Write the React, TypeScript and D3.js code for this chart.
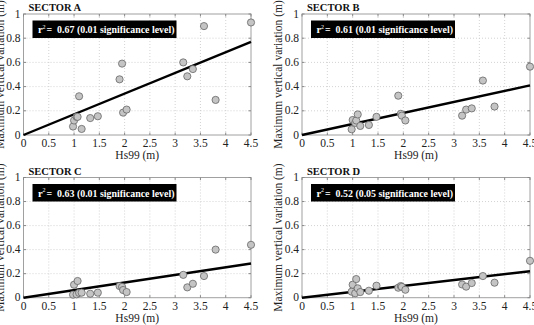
import React from "react";
import * as d3 from "d3";

// Hs99 values shared by the four sectors (m)
const hs99 = [0.98, 1.0, 1.05, 1.07, 1.1, 1.15, 1.32, 1.47, 1.9, 1.95, 1.97, 2.04, 3.16, 3.24, 3.35, 3.57, 3.8, 4.5];

// Maximum vertical variation per sector (m)
const sectorA = [0.07, 0.12, 0.15, 0.15, 0.32, 0.05, 0.14, 0.155, 0.46, 0.59, 0.185, 0.21, 0.6, 0.485, 0.545, 0.9, 0.29, 0.93];
const sectorB = [0.047, 0.124, 0.1, 0.12, 0.17, 0.075, 0.083, 0.15, 0.325, 0.175, 0.16, 0.12, 0.16, 0.21, 0.22, 0.45, 0.235, 0.565];
const sectorC = [0.025, 0.108, 0.028, 0.139, 0.04, 0.042, 0.033, 0.042, 0.097, 0.09, 0.064, 0.047, 0.19, 0.086, 0.116, 0.18, 0.4, 0.44];
const sectorD = [0.05, 0.108, 0.037, 0.155, 0.078, 0.047, 0.058, 0.1, 0.083, 0.097, 0.09, 0.066, 0.11, 0.092, 0.122, 0.18, 0.125, 0.307];

// Fitted line (through origin) value at Hs99 = 4.5
const fitAt45 = [0.77, 0.41, 0.285, 0.22];
const sectorNames = ["SECTOR A", "SECTOR B", "SECTOR C", "SECTOR D"];
const rSquared = ["0.67", "0.61", "0.63", "0.52"];
const significance = ["0.01", "0.01", "0.01", "0.05"];

const xTicks = [0, 0.5, 1, 1.5, 2, 2.5, 3, 3.5, 4, 4.5];
const yTicks = [0, 0.2, 0.4, 0.6, 0.8, 1];

const W = 534;
const H = 325;
const FONT = "'Liberation Serif', 'Times New Roman', Times, 'DejaVu Serif', serif";

const frames = [
  { left: 23.5, right: 251, top: 14, bottom: 135 },
  { left: 302, right: 530, top: 14, bottom: 135 },
  { left: 23.5, right: 251, top: 177.5, bottom: 297.7 },
  { left: 302, right: 530, top: 177.5, bottom: 297.7 },
];

const allSeries = [sectorA, sectorB, sectorC, sectorD];

function Panel({ idx }: { idx: number }) {
  const f = frames[idx];
  const values = allSeries[idx];
  const x = d3.scaleLinear().domain([0, 4.5]).range([f.left, f.right]);
  const y = d3.scaleLinear().domain([0, 1]).range([f.bottom, f.top]);
  const line = d3.line<[number, number]>().x((d) => x(d[0])).y((d) => y(d[1]));
  const fit: [number, number][] = [[0, 0], [4.5, fitAt45[idx]]];
  const fmt = (v: number) => (v === 0 ? "0" : d3.format("")(v));
  const cy = (f.top + f.bottom) / 2;
  const labelX = f.left - 20;
  const txt = { fontFamily: FONT };

  return (
    <g>
      {/* dotted grid */}
      {xTicks.slice(1, -1).map((t) => (
        <line key={"gx" + t} x1={x(t)} x2={x(t)} y1={f.top} y2={f.bottom} stroke="#c8c8c8" strokeWidth={0.8} strokeDasharray="1,2" />
      ))}
      {yTicks.slice(1, -1).map((t) => (
        <line key={"gy" + t} x1={f.left} x2={f.right} y1={y(t)} y2={y(t)} stroke="#c8c8c8" strokeWidth={0.8} strokeDasharray="1,2" />
      ))}
      {/* frame */}
      <rect x={f.left} y={f.top} width={f.right - f.left} height={f.bottom - f.top} fill="none" stroke="#a0a0a0" strokeWidth={1} />
      {/* tick marks */}
      {xTicks.map((t) => (
        <g key={"tx" + t}>
          <line x1={x(t)} x2={x(t)} y1={f.bottom} y2={f.bottom - 2.5} stroke="#888" />
          <line x1={x(t)} x2={x(t)} y1={f.top} y2={f.top + 2.5} stroke="#888" />
        </g>
      ))}
      {yTicks.map((t) => (
        <g key={"ty" + t}>
          <line x1={f.left} x2={f.left + 2.5} y1={y(t)} y2={y(t)} stroke="#888" />
          <line x1={f.right} x2={f.right - 2.5} y1={y(t)} y2={y(t)} stroke="#888" />
        </g>
      ))}
      {/* tick labels */}
      {xTicks.map((t) => (
        <text key={"lx" + t} x={x(t)} y={f.bottom + 12} textAnchor="middle" fontSize={11.5} style={txt} fill="#222">
          {fmt(t)}
        </text>
      ))}
      {yTicks.map((t) => (
        <text key={"ly" + t} x={f.left - 3} y={y(t) + 3.5} textAnchor="end" fontSize={11.5} style={txt} fill="#222">
          {fmt(t)}
        </text>
      ))}
      {/* axis titles */}
      <text x={(f.left + f.right) / 2} y={f.bottom + 24} textAnchor="middle" fontSize={11.5} style={txt} fill="#222">
        Hs99 (m)
      </text>
      <text
        transform={`translate(${labelX},${cy}) rotate(-90)`}
        textAnchor="middle"
        fontSize={11.5}
        style={txt}
        fill="#222"
      >
        Maximum vertical variation (m)
      </text>
      {/* sector title */}
      <text x={f.left + 5} y={f.top - 3} fontSize={10.5} fontWeight="bold" style={txt} fill="#111">
        {sectorNames[idx]}
      </text>
      {/* r-squared box */}
      <rect x={f.left + 9} y={f.top + 6.5} width={144} height={17.5} fill="#000" />
      <text x={f.left + 14.5} y={f.top + 19} fontSize={10.5} fontWeight="bold" style={txt} fill="#fff">
        r
      </text>
      <text x={f.left + 19} y={f.top + 14.5} fontSize={6} style={txt} fill="#fff">
        2
      </text>
      <text
        x={f.left + 23}
        y={f.top + 19}
        fontSize={10.5}
        fontWeight="bold"
        style={txt}
        fill="#fff"
        textLength={128}
        lengthAdjust="spacingAndGlyphs"
      >
        {"=\u00a0\u00a0" + rSquared[idx] + " (" + significance[idx] + " significance level)"}
      </text>
      {/* fitted line */}
      <path d={line(fit) || ""} fill="none" stroke="#000" strokeWidth={2.4} />
      {/* observations */}
      {values.map((v, i) => (
        <circle key={"p" + i} cx={x(hs99[i])} cy={y(v)} r={3.6} fill="#c4c4c4" stroke="#666" strokeWidth={0.8} />
      ))}
    </g>
  );
}

export default function App() {
  return (
    <svg width={W} height={H} style={{ position: "absolute", left: 0, top: 0, background: "#fff" }}>
      <rect width={W} height={H} fill="#fff" />
      {[0, 1, 2, 3].map((i) => (
        <Panel key={i} idx={i} />
      ))}
    </svg>
  );
}
